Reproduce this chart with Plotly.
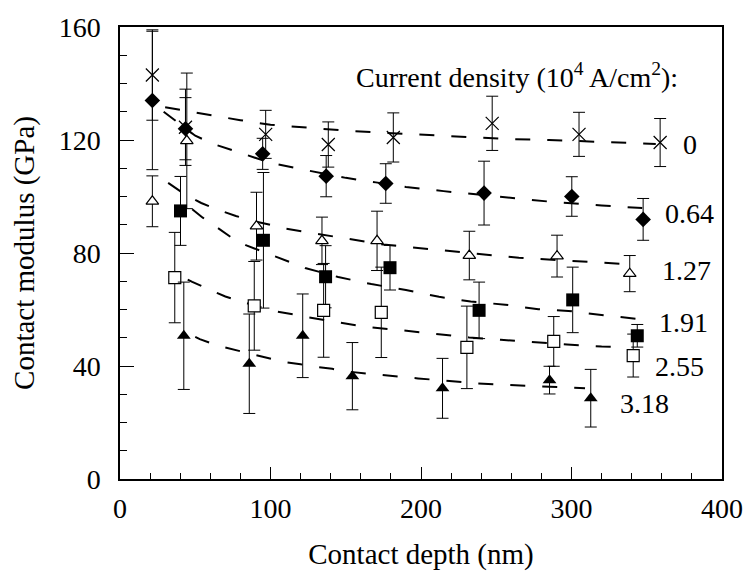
import plotly.graph_objects as go

# ---- marker data (contact depth nm, contact modulus GPa, error GPa) ----
x_0 = [21.5, 43.5, 96.8, 138.4, 181.6, 247.3, 305.0, 358.9]
y_0 = [143.0, 124.5, 122.0, 118.4, 120.9, 125.9, 122.0, 119.1]
e_0 = [16.0, 13.5, 8.5, 8.0, 8.7, 9.6, 7.8, 8.5]

x_064 = [21.5, 43.5, 94.8, 137.0, 176.6, 241.9, 300.2, 347.6]
y_064 = [134.0, 124.0, 115.1, 107.2, 104.6, 101.2, 100.0, 91.9]
e_064 = [24.5, 11.0, 5.5, 7.3, 7.0, 11.3, 7.0, 7.4]

x_127 = [21.5, 44.4, 90.7, 134.2, 170.8, 232.1, 290.4, 338.7]
y_127 = [98.3, 119.7, 89.5, 84.3, 84.3, 79.1, 78.9, 72.7]
e_127 = [9.0, 24.0, 12.0, 8.4, 10.5, 8.6, 7.4, 6.4]

x_191 = [40.2, 95.3, 136.6, 179.4, 238.6, 300.8, 343.7]
y_191 = [94.9, 84.5, 71.6, 74.8, 59.7, 63.4, 50.7]
e_191 = [12.2, 24.0, 11.0, 7.9, 10.0, 11.6, 4.0]

x_255 = [36.4, 89.2, 135.3, 173.6, 230.5, 288.2, 341.0]
y_255 = [71.3, 61.3, 59.7, 59.0, 46.6, 48.7, 43.7]
e_255 = [16.0, 15.7, 16.6, 16.0, 14.6, 8.8, 7.6]

x_318 = [42.4, 85.9, 121.4, 154.4, 214.3, 285.4, 312.8]
y_318 = [50.7, 40.8, 50.7, 36.4, 32.1, 35.0, 28.6]
e_318 = [19.0, 17.6, 14.8, 11.9, 10.6, 4.9, 10.2]

# ---- dashed fit curves ----
fx_0 = [30, 45, 60, 80, 100, 130, 150, 170, 195, 215, 240, 260, 285, 305, 330, 356]
fy_0 = [131.6, 130.2, 128.6, 127.0, 125.4, 124.1, 123.3, 122.7, 122.0, 121.4, 120.7, 120.3, 120.0, 119.6, 119.1, 118.6]

fx_064 = [29, 35, 40, 50, 62, 80, 100, 125, 150, 170, 190, 215, 235, 260, 285, 320, 347]
fy_064 = [130.0, 127.6, 125.5, 121.5, 118.6, 115.3, 111.9, 109.2, 106.6, 105.0, 103.4, 101.9, 100.8, 99.4, 98.2, 96.8, 95.9]

fx_127 = [32, 43.5, 54, 65, 77, 88, 99, 110, 125, 150, 175, 198, 220, 240, 265, 287, 310, 332]
fy_127 = [104.8, 100.6, 97.7, 95.3, 93.1, 91.4, 90.1, 88.6, 87.3, 85.1, 83.0, 81.8, 80.6, 79.5, 78.3, 77.6, 76.8, 76.2]

fx_191 = [48, 55, 62, 74, 84, 96, 106, 123, 145, 167, 190, 212, 233, 256, 278, 298, 322, 347]
fy_191 = [95.5, 92.5, 90.0, 85.5, 82.7, 80.2, 78.0, 74.7, 71.5, 69.0, 66.9, 64.5, 62.8, 61.7, 60.1, 59.5, 57.9, 56.5]

fx_255 = [45, 48, 60, 70, 80.5, 94.6, 103, 115, 121, 142, 164, 186, 206, 232, 253, 275, 297, 320, 337]
fy_255 = [70.6, 69.8, 66.9, 64.6, 62.8, 60.5, 59.4, 58.3, 57.6, 55.7, 53.8, 52.7, 51.5, 50.1, 49.3, 48.4, 47.6, 46.9, 46.6]

fx_318 = [50, 53, 65, 76, 86, 98, 109, 120, 130, 141, 152, 164, 175, 186, 198, 214, 236, 258, 281, 300, 309]
fy_318 = [50.3, 49.5, 47.2, 45.7, 44.3, 42.8, 41.4, 40.6, 39.7, 39.0, 38.0, 37.3, 36.7, 36.1, 35.6, 34.9, 33.9, 33.3, 32.7, 32.3, 32.1]

# ---- labels ----
series_labels = ["0", "0.64", "1.27", "1.91", "2.55", "3.18"]
label_x = [372.6, 360.6, 358.9, 356.7, 354.3, 330.8]
label_y = [118.3, 94.0, 73.8, 55.4, 39.7, 26.8]
legend_title = "Current density (10<sup>4</sup> A/cm<sup>2</sup>):"
x_title = "Contact depth (nm)"
y_title = "Contact modulus (GPa)"

FONT = "Liberation Serif"

fig = go.Figure()

dash_style = dict(color="black", width=2, dash="15px,17px")
for fx, fy in [(fx_0, fy_0), (fx_064, fy_064), (fx_127, fy_127),
               (fx_191, fy_191), (fx_255, fy_255), (fx_318, fy_318)]:
    fig.add_trace(go.Scatter(x=fx, y=fy, mode="lines", line=dash_style,
                             showlegend=False, hoverinfo="skip"))

err = lambda e: dict(type="data", array=e, visible=True, color="black",
                     thickness=1, width=6)

series = [
    (x_0, y_0, e_0, dict(symbol="x-thin-open", size=13, color="black",
                         line=dict(color="black", width=1.2))),
    (x_064, y_064, e_064, dict(symbol="diamond", size=12, color="black",
                               line=dict(width=0))),
    (x_127, y_127, e_127, dict(symbol="triangle-up", size=11, color="white",
                               line=dict(color="black", width=1.2))),
    (x_191, y_191, e_191, dict(symbol="square", size=13, color="black",
                               line=dict(width=0))),
    (x_255, y_255, e_255, dict(symbol="square", size=12, color="white",
                               line=dict(color="black", width=1.2))),
    (x_318, y_318, e_318, dict(symbol="triangle-up", size=12, color="black",
                               line=dict(width=0))),
]
for sx, sy, se, mk in series:
    fig.add_trace(go.Scatter(x=sx, y=sy, mode="markers", marker=mk,
                             error_y=err(se), showlegend=False))

for t, lx, ly in zip(series_labels, label_x, label_y):
    fig.add_annotation(x=lx, y=ly, text=t, showarrow=False, xanchor="left",
                       yanchor="middle", font=dict(family=FONT, size=28, color="black"))

fig.add_annotation(x=155.3, y=142.8, text=legend_title, showarrow=False,
                   xanchor="left", yanchor="middle",
                   font=dict(family=FONT, size=28, color="black"))

axis_common = dict(showgrid=False, zeroline=False, showline=True, linecolor="black",
                   linewidth=1.5, mirror=True, ticks="inside", tickcolor="black",
                   tickfont=dict(family=FONT, size=28, color="black"))

fig.update_xaxes(range=[0, 400], dtick=100, ticklen=12, tickwidth=1.2,
                 minor=dict(dtick=20, ticks="inside", ticklen=6, tickcolor="black", tickwidth=1),
                 ticklabelstandoff=4,
                 title=dict(text=x_title, font=dict(family=FONT, size=29, color="black"),
                            standoff=20),
                 **axis_common)
fig.update_yaxes(range=[0, 160], dtick=40, ticklen=14, tickwidth=1.2,
                 minor=dict(dtick=10, ticks="inside", ticklen=7, tickcolor="black", tickwidth=1),
                 ticklabelstandoff=12,
                 title=dict(text=y_title, font=dict(family=FONT, size=29, color="black"),
                            standoff=16),
                 **axis_common)

fig.update_layout(width=755, height=577, margin=dict(l=120, r=22, t=21, b=97),
                  paper_bgcolor="white", plot_bgcolor="white", showlegend=False,
                  font=dict(family=FONT, color="black"))

fig.write_html("out.html")
